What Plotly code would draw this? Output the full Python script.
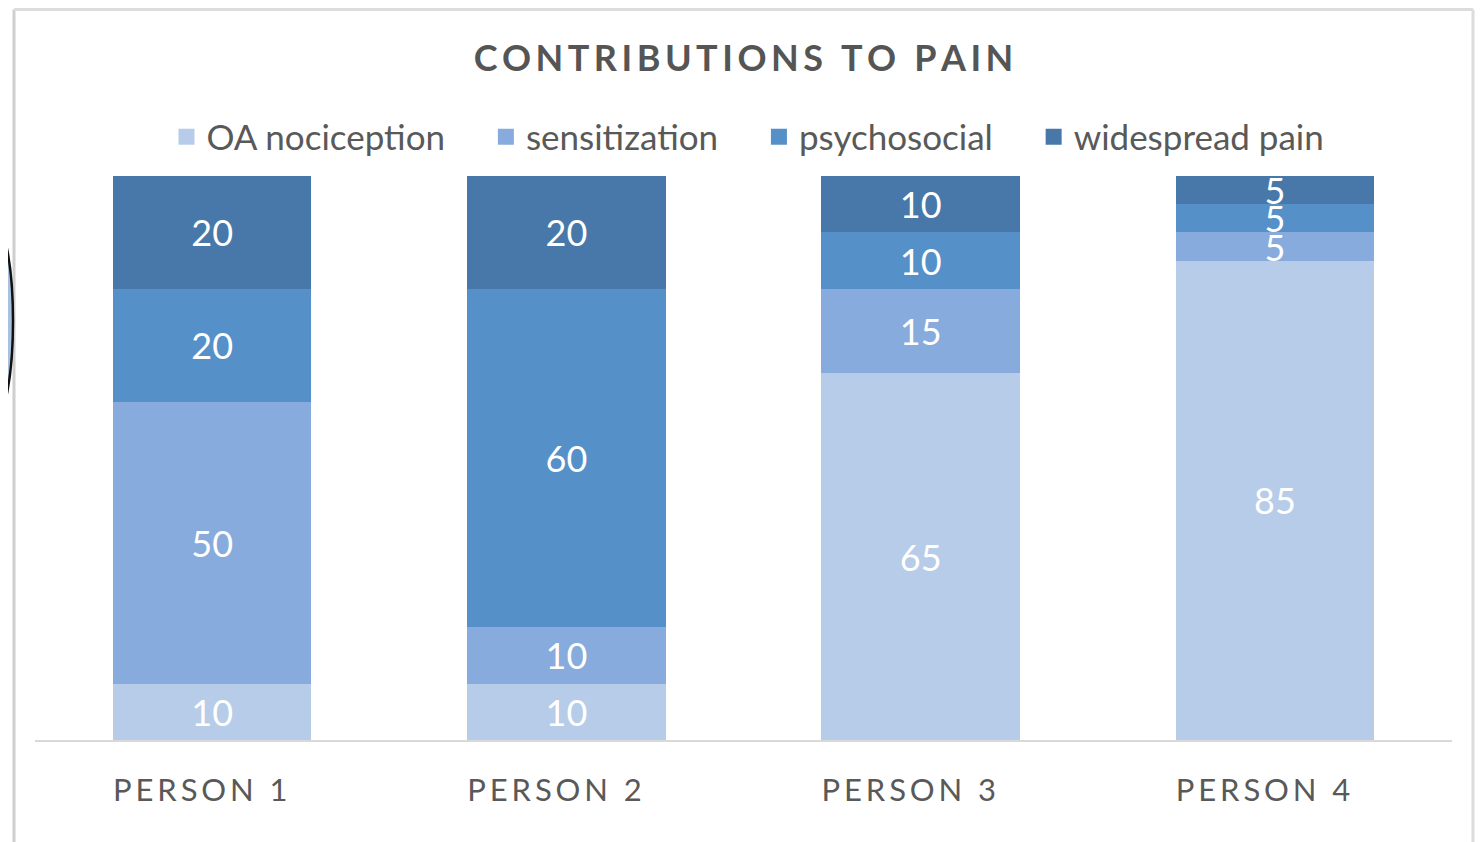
import plotly.graph_objects as go

categories = ["PERSON 1", "PERSON 2", "PERSON 3", "PERSON 4"]
series_names = ["OA nociception", "sensitization", "psychosocial", "widespread pain"]
oa_nociception = [10, 10, 65, 85]
sensitization = [50, 10, 15, 5]
psychosocial = [20, 60, 10, 5]
widespread_pain = [20, 20, 10, 5]
series_values = [oa_nociception, sensitization, psychosocial, widespread_pain]
colors = ["#b7cce8", "#86abdc", "#5690c9", "#4878a9"]

TS = "\u2009"
NB = "\u00a0"


def spaced(s):
    return TS.join(list(s))


tick_text = [spaced(c) + NB * 3 for c in categories]

fig = go.Figure()
for name, vals, col in zip(series_names, series_values, colors):
    fig.add_trace(go.Bar(
        x=categories, y=vals, name=name,
        marker=dict(color=col, line=dict(width=0)),
        text=[str(v) for v in vals],
        textposition="inside", insidetextanchor="middle", textangle=0,
        textfont=dict(color="white", size=36, family="Lato"),
        constraintext="none",
        hoverinfo="skip", showlegend=False,
    ))

# legend proxies (larger square symbols)
for i, (name, col) in enumerate(zip(series_names, colors)):
    pad = NB * 4 if i < len(series_names) - 1 else ""
    fig.add_trace(go.Scatter(
        x=[None], y=[None], mode="markers", name=name + pad,
        marker=dict(symbol="square", size=20, color=col, line=dict(width=0)),
        hoverinfo="skip", showlegend=True,
    ))

OFF = 8  # page body margin
W, H = 1484 - OFF, 842 - OFF
L = 35 - OFF
T = 176 - OFF
R = W - (1452 - OFF)
B = H - (740 - OFF)
pw, ph = W - L - R, H - T - B


def px(x):
    return (x - OFF - L) / pw


def py(y):
    return (H - B - (y - OFF)) / ph


shapes = [
    dict(type="line", xref="paper", yref="paper", x0=px(14), x1=px(14), y0=py(9.5), y1=py(850),
         line=dict(color="#cfcfcf", width=3)),
    dict(type="line", xref="paper", yref="paper", x0=px(14), x1=px(1473), y0=py(9.5), y1=py(9.5),
         line=dict(color="#dcdcdc", width=3)),
    dict(type="line", xref="paper", yref="paper", x0=px(1473), x1=px(1473), y0=py(9.5), y1=py(850),
         line=dict(color="#dcdcdc", width=3)),
    dict(type="circle", xref="paper", yref="paper", x0=px(-25), x1=px(13), y0=py(420), y1=py(222),
         fillcolor="#a9c1e0", line=dict(color="#111111", width=2.5)),
]

fig.update_layout(
    barmode="stack",
    bargap=0.44,
    width=W, height=H,
    margin=dict(l=L, r=R, t=T, b=B, autoexpand=False),
    paper_bgcolor="white", plot_bgcolor="white",
    font=dict(family="Lato", color="#595959"),
    title=dict(text=spaced("CONTRIBUTIONS") + TS * 4 + spaced("TO") + TS * 4 + spaced("PAIN"),
               x=0.5, xref="paper", xanchor="center", y=1 - (58 - OFF) / H, yanchor="middle",
               font=dict(size=36, family="Lato", weight="bold", color="#555555")),
    legend=dict(orientation="h", x=px(748), xanchor="center", y=py(137), yanchor="middle",
                font=dict(size=35, family="Lato", color="#595959"),
                traceorder="normal", itemwidth=30, bgcolor="rgba(0,0,0,0)"),
    uniformtext=dict(minsize=36, mode="show"),
    xaxis=dict(tickmode="array", tickvals=categories, ticktext=tick_text,
               tickfont=dict(size=31, family="Lato", color="#595959"),
               showline=True, linecolor="#d9d9d9", linewidth=2, ticks="",
               showgrid=False, zeroline=False, ticklabelstandoff=22, fixedrange=True),
    yaxis=dict(range=[0, 100], visible=False, showgrid=False, zeroline=False, fixedrange=True),
    shapes=shapes,
    showlegend=True,
)

fig.write_html("out.html")
